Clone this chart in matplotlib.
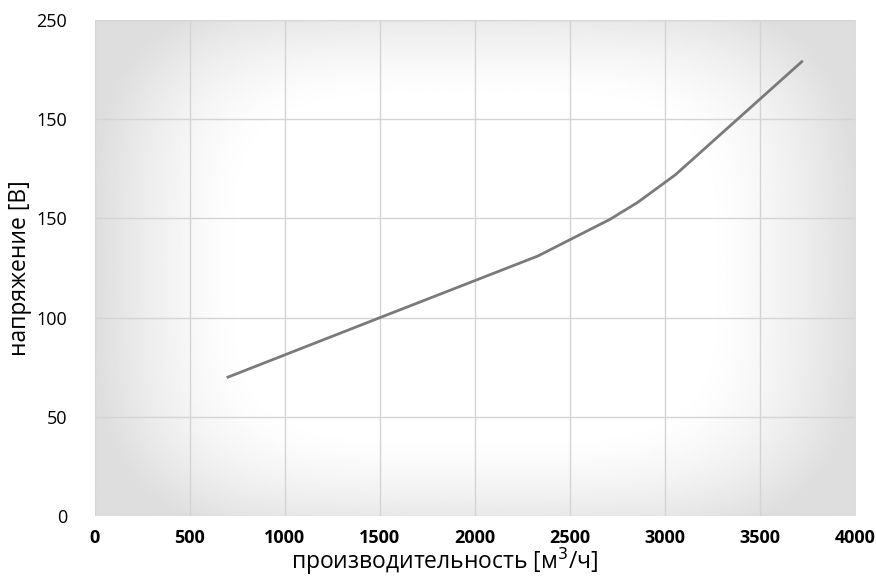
import numpy as np
import matplotlib.pyplot as plt

flow = [700, 1500, 2330, 2710, 2855, 3055, 3720]
voltage = [70, 100, 131, 149.5, 158, 172, 229]

x_ticks = [0, 500, 1000, 1500, 2000, 2500, 3000, 3500, 4000]
y_ticks = [0, 50, 100, 150, 200, 250]
y_tick_labels = ['0', '50', '100', '150', '150', '250']

plt.rcParams['font.family'] = ['Open Sans', 'DejaVu Sans']

fig = plt.figure(figsize=(8.76, 5.80), dpi=100)
ax = fig.add_axes([0.1084, 0.1103, 0.8676, 0.8552])

# фон: светлый радиальный градиент
u = np.linspace(-1, 1, 400)
v = np.linspace(-1, 1, 300)
U, V = np.meshgrid(u, v)
r = (np.abs(U) ** 4 + np.abs(V * 0.9) ** 4) ** 0.25
shade = 1 - 0.13 * np.clip((r - 0.6) / 0.4, 0, 1) ** 1.5
ax.imshow(shade, cmap='gray', vmin=0, vmax=1, extent=[0, 4000, 0, 250],
          aspect='auto', zorder=0, interpolation='bilinear')

ax.plot(flow, voltage, color='#7a7a7a', lw=2, zorder=3)

ax.set_xlim(0, 4000)
ax.set_ylim(0, 250)
ax.set_xticks(x_ticks)
ax.set_yticks(y_ticks)
ax.set_yticklabels(y_tick_labels)
ax.grid(True, color='#d4d4d4', lw=1, zorder=1)
ax.set_axisbelow(False)
for s in ax.spines.values():
    s.set_visible(False)
ax.tick_params(length=0, labelsize=13, colors='black')
ax.tick_params(axis='y', pad=20)
ax.tick_params(axis='x', pad=9)
for lab in ax.get_xticklabels():
    lab.set_fontweight('bold')

ax.set_xlabel('производительность [м$^3$/ч]', fontsize=16.5)
ax.xaxis.set_label_coords(0.46, -0.06)
ax.set_ylabel('напряжение [В]', fontsize=16.5, labelpad=3)

fig.savefig('out.png', dpi=100)
